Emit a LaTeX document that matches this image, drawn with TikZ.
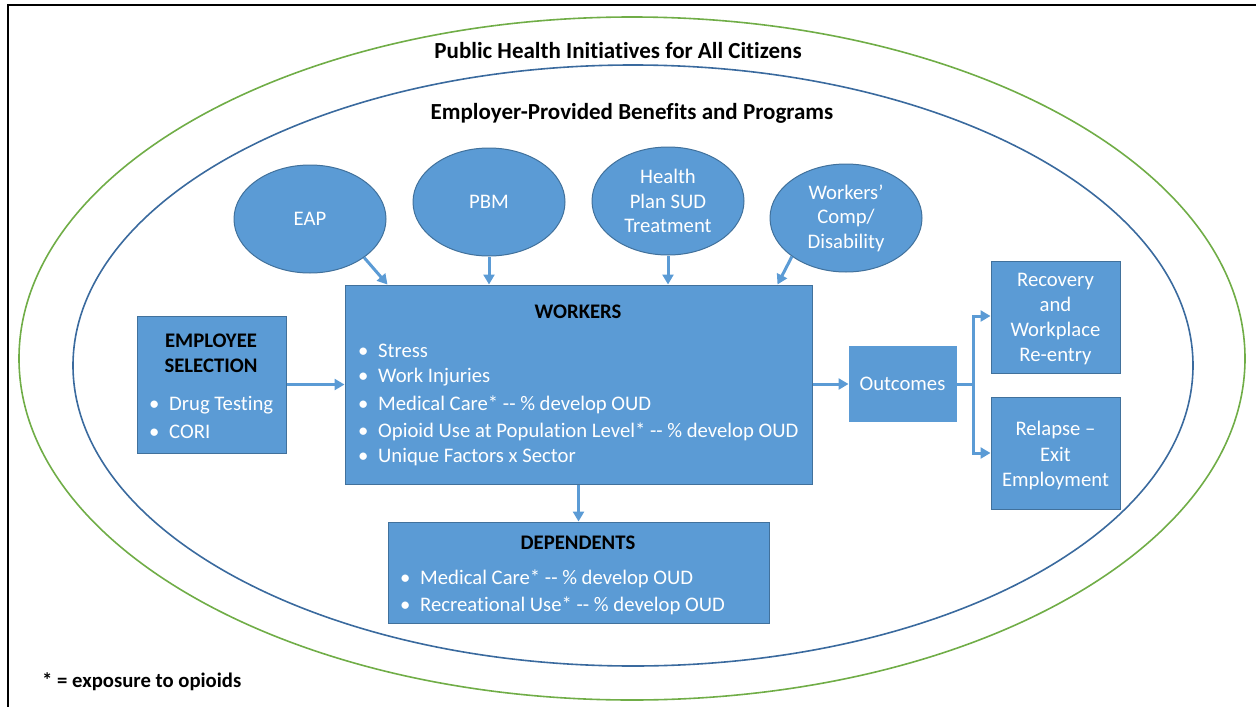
\documentclass[tikz,border=0pt]{standalone}
\usepackage{fontspec}
\setmainfont{Carlito}[Ligatures={NoCommon,NoRequired,NoContextual}]
\usetikzlibrary{arrows.meta,shapes.geometric,calc}
\definecolor{boxblue}{HTML}{5B9BD5}
\definecolor{boxedge}{HTML}{41719C}
\definecolor{ringblue}{HTML}{3A6A9E}
\definecolor{ringgreen}{HTML}{70AD47}
\newcommand\bodyfs{\fontsize{20.7}{24.5}\selectfont}
\newcommand\boxfs{\fontsize{20.7}{25.3}\selectfont}
\newcommand\ringfs{\fontsize{23}{27}\selectfont}
\tikzset{
  fbox/.style={draw=boxedge, fill=boxblue, line width=1pt, inner sep=0pt, align=center, text=white, font=\boxfs},
  btext/.style={inner sep=0pt, align=center, text=white, font=\boxfs},
  oval/.style={ellipse, draw=boxedge, fill=boxblue, line width=1pt, minimum width=152, minimum height=108, inner sep=0pt, text=white, align=center, font=\bodyfs},
  wtxt/.style={text=white, anchor=west, inner sep=0pt, font=\bodyfs},
  btitle/.style={text=black, inner sep=0pt, font=\bodyfs\bfseries, align=center},
  rtitle/.style={text=black, inner sep=0pt, font=\ringfs\bfseries, align=center},
  flow/.style={draw=boxblue, line width=3pt, -{Triangle[length=10pt,width=11pt]}},
  flowline/.style={draw=boxblue, line width=3pt},
  ring/.style={line width=1.6pt},
}
\newcommand\bul[1]{\makebox[20pt][l]{\textbullet}#1}
\newcommand\dd{-{}-}
\begin{document}
\begin{tikzpicture}[x=1pt,y=-1pt]
\useasboundingbox (0,0) rectangle (1256,707);
% frame
\draw[line width=2pt] (8,712) -- (8,5) -- (1262,5);
% rings
\draw[ringgreen, ring] (632,358.5) ellipse [x radius=613, y radius=341.5];
\draw[ringblue, ring] (633,365.5) ellipse [x radius=560, y radius=300.5];
\node[rtitle] (pub) at (618,51) {Public Health Initiatives for All Citizens};
\node[rtitle] (emp) at (632,113) {Employer-Provided Benefits and Programs};
% ovals
\node[oval] (eap) at (310,219) {EAP};
\node[oval] (pbm) at (489,202) {PBM};
\node[oval] (hp) at (668,201) {Health\\Plan SUD\\Treatment};
\node[oval] (wc) at (846,218) {Workers’\\Comp/\\Disability};
% boxes
\node[fbox, minimum width=467, minimum height=199] (workers) at (578.5,384.5) {};
\node[fbox, minimum width=149, minimum height=137] (es) at (211.5,384.5) {};
\node[fbox, draw=boxblue, minimum width=107, minimum height=75] (outc) at (902.5,384) {Outcomes};
\node[fbox, minimum width=129, minimum height=112] (rec) at (1055.5,317) {};
\node[btext] (rect) at (1055.5,319) {Recovery\\and\\Workplace\\Re-entry};
\node[fbox, minimum width=129, minimum height=112] (rel) at (1055.5,453) {};
\node[btext] (relt) at (1055.5,455.5) {Relapse –\\Exit\\Employment};
\node[fbox, minimum width=381, minimum height=101] (dep) at (578.5,572.5) {};
% workers text
\node[btitle] (wt) at (578,312) {WORKERS};
\node[wtxt] (w1) at (358,350.5) {\bul{Stress}};
\node[wtxt] (w2) at (358,377.5) {\bul{Work Injuries}};
\node[wtxt] (w3) at (358,404.5) {\bul{Medical Care* \dd{} \% develop OUD}};
\node[wtxt] (w4) at (358,431.5) {\bul{Opioid Use at Population Level* \dd{} \% develop OUD}};
\node[wtxt] (w5) at (358,457.5) {\bul{Unique Factors x Sector}};
% employee selection text
\node[btitle] (est) at (211,353.5) {EMPLOYEE\\SELECTION};
\node[wtxt] (e1) at (149,405) {\bul{Drug Testing}};
\node[wtxt] (e2) at (149,432) {\bul{CORI}};
% dependents text
\node[btitle] (dt) at (578,542.5) {DEPENDENTS};
\node[wtxt] (d1) at (400,579) {\bul{Medical Care* \dd{} \% develop OUD}};
\node[wtxt] (d2) at (400,606) {\bul{Recreational Use* \dd{} \% develop OUD}};
% footnote
\node[anchor=west, inner sep=0pt, font=\bodyfs\bfseries] (fn) at (42,682) {* = exposure to opioids};
% connectors
\draw[flow] (eap.south east) -- ($(workers.north west)+(43,0)$);
\draw[flow] (pbm.south) -- (pbm.south |- workers.north);
\draw[flow] (hp.south) -- (hp.south |- workers.north);
\draw[flow] (wc.south west) -- ($(workers.north west)+(433,0)$);
\draw[flow] (es.east) -- (es.east -| workers.west);
\draw[flow] (workers.east |- outc.west) -- (outc.west);
\draw[flow] (workers.south) -- (dep.north);
\coordinate (split) at (973,384);
\draw[flowline] (outc.east) -- (split);
\draw[flow] (split) |- ($(rec.west)+(0,-1)$);
\draw[flow] (split) |- (rel.west);
\end{tikzpicture}
\end{document}
